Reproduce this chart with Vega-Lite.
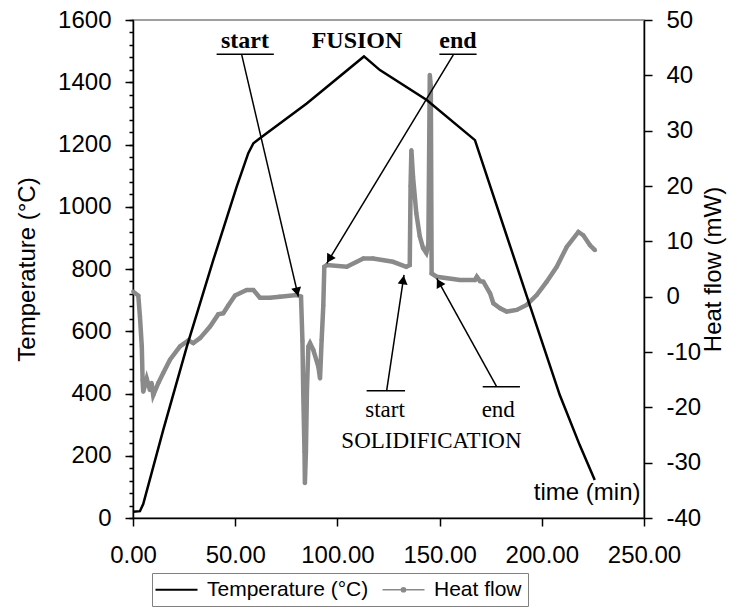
{
  "$schema": "https://vega.github.io/schema/vega-lite/v6.json",
  "width": 511,
  "height": 498,
  "autosize": {"type": "none"},
  "padding": {"left": 133, "top": 20, "right": 102, "bottom": 92},
  "background": "white",
  "config": {
    "view": {"stroke": "#808080", "strokeWidth": 1.5},
    "font": "Liberation Sans",
    "axis": {"domainColor": "#000000", "domainWidth": 1.5, "tickColor": "#000000", "tickWidth": 1.5, "labelColor": "#000000", "titleColor": "#000000", "labelFont": "Liberation Sans", "titleFont": "Liberation Sans", "labelFontSize": 24, "titleFontSize": 24, "titleFontWeight": "normal", "grid": false, "labelOverlap": false, "labelBound": false, "labelFlush": false},
    "legend": {"symbolSize": 1764, "labelFontSize": 21}
  },
  "datasets": {
    "heatflow": [
      {"time": 0.1, "heat": 0.9}, {"time": 2.6, "heat": 0.2}, {"time": 3.4, "heat": -3.6}, {"time": 4.3, "heat": -9.0},
      {"time": 4.7, "heat": -15.1}, {"time": 5.0, "heat": -17.2}, {"time": 6.7, "heat": -14.8}, {"time": 8.3, "heat": -16.9},
      {"time": 9.1, "heat": -15.6}, {"time": 9.9, "heat": -17.8}, {"time": 12.4, "heat": -15.6}, {"time": 14.8, "heat": -13.8},
      {"time": 18.1, "heat": -11.4}, {"time": 23.0, "heat": -9.0}, {"time": 27.1, "heat": -7.9}, {"time": 29.5, "heat": -8.4},
      {"time": 32.8, "heat": -7.5}, {"time": 37.7, "heat": -5.4}, {"time": 41.7, "heat": -3.2}, {"time": 44.2, "heat": -3.0},
      {"time": 46.6, "heat": -1.6}, {"time": 49.9, "heat": 0.2}, {"time": 55.6, "heat": 1.2}, {"time": 58.9, "heat": 1.2},
      {"time": 62.1, "heat": -0.2}, {"time": 67.0, "heat": -0.2}, {"time": 71.9, "heat": 0.0}, {"time": 80.1, "heat": 0.3},
      {"time": 82.2, "heat": 0.0}, {"time": 82.9, "heat": -8.0}, {"time": 83.3, "heat": -17.5}, {"time": 83.9, "heat": -28.0},
      {"time": 84.1, "heat": -33.7}, {"time": 84.6, "heat": -28.0}, {"time": 85.1, "heat": -17.0}, {"time": 85.8, "heat": -9.0},
      {"time": 86.6, "heat": -8.4}, {"time": 88.2, "heat": -9.6}, {"time": 90.7, "heat": -12.7}, {"time": 91.5, "heat": -14.8},
      {"time": 92.3, "heat": -7.8}, {"time": 93.1, "heat": -1.6}, {"time": 93.6, "heat": 5.4}, {"time": 94.8, "heat": 5.7},
      {"time": 104.6, "heat": 5.4}, {"time": 112.7, "heat": 6.9}, {"time": 117.4, "heat": 6.9}, {"time": 127.2, "heat": 6.3},
      {"time": 133.7, "heat": 5.4}, {"time": 135.4, "heat": 5.7}, {"time": 135.8, "heat": 20.0}, {"time": 136.2, "heat": 26.5},
      {"time": 137.0, "heat": 21.7}, {"time": 138.6, "heat": 15.1}, {"time": 140.3, "heat": 10.9}, {"time": 141.9, "heat": 8.8},
      {"time": 143.5, "heat": 7.9}, {"time": 144.5, "heat": 9.5}, {"time": 145.2, "heat": 40.1}, {"time": 145.7, "heat": 38.0},
      {"time": 146.1, "heat": 4.2}, {"time": 148.6, "heat": 3.6}, {"time": 160.0, "heat": 3.0}, {"time": 167.3, "heat": 3.0},
      {"time": 168.2, "heat": 3.6}, {"time": 169.8, "heat": 2.8}, {"time": 171.4, "heat": 2.7}, {"time": 174.7, "heat": 0.6},
      {"time": 176.3, "heat": -1.2}, {"time": 179.6, "heat": -2.1}, {"time": 182.8, "heat": -2.7}, {"time": 187.7, "heat": -2.4},
      {"time": 192.6, "heat": -1.5}, {"time": 197.5, "heat": 0.3}, {"time": 202.4, "heat": 2.7}, {"time": 207.3, "heat": 5.4},
      {"time": 212.2, "heat": 9.0}, {"time": 217.9, "heat": 11.7}, {"time": 220.3, "heat": 11.1}, {"time": 223.6, "heat": 9.3},
      {"time": 226.0, "heat": 8.4}
    ],
    "temperature": [
      {"time": 0.0, "temp": 20}, {"time": 3.4, "temp": 22}, {"time": 5.0, "temp": 45}, {"time": 14.8, "temp": 283},
      {"time": 26.3, "temp": 550}, {"time": 39.3, "temp": 829}, {"time": 50.7, "temp": 1064}, {"time": 56.4, "temp": 1172},
      {"time": 58.9, "temp": 1204}, {"time": 62.1, "temp": 1220}, {"time": 85.0, "temp": 1332}, {"time": 113.0, "temp": 1483},
      {"time": 120.8, "temp": 1439}, {"time": 143.7, "temp": 1343}, {"time": 167.3, "temp": 1214}, {"time": 194.1, "temp": 684},
      {"time": 208.8, "temp": 395}, {"time": 218.5, "temp": 235}, {"time": 225.9, "temp": 122}
    ],
    "boldLabels": [
      {"time": 54.8, "temp": 1511, "text": "start"},
      {"time": 109.6, "temp": 1511, "text": "FUSION"},
      {"time": 159.0, "temp": 1511, "text": "end"}
    ],
    "plainLabels": [
      {"time": 123.3, "temp": 325, "text": "start"},
      {"time": 178.7, "temp": 325, "text": "end"},
      {"time": 146.0, "temp": 224, "text": "SOLIDIFICATION"}
    ],
    "segments": [
      {"time": 40.9, "temp": 1490, "time2": 68.9, "temp2": 1490},
      {"time": 149.9, "temp": 1490, "time2": 168.1, "temp2": 1490},
      {"time": 53.2, "temp": 1488, "time2": 80.9, "temp2": 711},
      {"time": 156.7, "temp": 1488, "time2": 94.8, "temp2": 818},
      {"time": 114.3, "temp": 409, "time2": 133.1, "temp2": 409},
      {"time": 171.1, "temp": 422, "time2": 189.3, "temp2": 422},
      {"time": 124.1, "temp": 409, "time2": 132.6, "temp2": 781},
      {"time": 177.9, "temp": 422, "time2": 148.6, "temp2": 770}
    ]
  },
  "layer": [
    {
      "data": {"name": "heatflow"},
      "mark": {"type": "line", "strokeWidth": 4.5, "point": {"filled": true, "size": 18}},
      "encoding": {
        "x": {
          "field": "time", "type": "quantitative",
          "scale": {"domain": [0, 250], "nice": false},
          "axis": {
            "orient": "bottom", "values": [0, 50, 100, 150, 200, 250], "format": ".2f", "labelOverlap": false,
            "tickSize": 8, "labelPadding": 17,
            "title": "time (min)", "titleX": 507, "titleY": -19, "titleAlign": "right", "titleBaseline": "alphabetic", "titleAnchor": null
          }
        },
        "y": {
          "field": "heat", "type": "quantitative",
          "scale": {"domain": [-40, 50], "nice": false},
          "axis": {
            "orient": "right", "values": [-40, -30, -20, -10, 0, 10, 20, 30, 40, 50], "labelOverlap": false,
            "labelExpr": "datum.value + ''",
            "tickSize": 8, "labelPadding": 14,
            "encode": {"ticks": {"update": {"x": {"value": -8}}}},
            "title": "Heat flow (mW)", "titleAngle": 270, "titleBaseline": "top", "titlePadding": 1
          }
        },
        "color": {
          "datum": "Heat flow", "type": "nominal",
          "scale": {"domain": ["Temperature (°C)", "Heat flow"], "range": ["#000000", "#8a8a8a"]},
          "legend": {
            "orient": "none", "legendX": 19, "legendY": 553, "direction": "horizontal", "title": null,
            "labelFont": "Liberation Sans", "labelFontSize": 21, "labelColor": "#000000", "labelLimit": 400,
            "symbolType": "stroke", "symbolSize": 1764, "symbolStrokeWidth": 2, "symbolOffset": 8,
            "strokeColor": "#808080", "fillColor": "#ffffff", "padding": 6, "columnPadding": 10, "labelOffset": 20,
            "encode": {"symbols": {"update": {
              "shape": {"signal": "datum.value === 'Heat flow' ? 'M-1,0L1,0M-0.1,0A0.1,0.1,0,1,0,0.1,0A0.1,0.1,0,1,0,-0.1,0Z' : 'stroke'"},
              "fill": {"signal": "datum.value === 'Heat flow' ? '#8a8a8a' : 'transparent'"},
              "strokeWidth": {"signal": "datum.value === 'Heat flow' ? 1.5 : 2"}
            }}}
          }
        }
      }
    },
    {
      "layer": [
        {
          "data": {"name": "temperature"},
          "mark": {"type": "line", "strokeWidth": 2.5},
          "encoding": {
            "x": {"field": "time", "type": "quantitative"},
            "y": {
              "field": "temp", "type": "quantitative",
              "scale": {"domain": [0, 1600], "nice": false},
              "axis": {
                "orient": "left",
                "values": [0, 200, 400, 600, 800, 1000, 1200, 1400, 1600],
                "labelOverlap": false, "format": "d",
                "tickSize": 8, "labelPadding": 14,
                "title": "Temperature (°C)", "titlePadding": 18
              }
            },
            "color": {"datum": "Temperature (°C)", "type": "nominal"}
          }
        },
        {
          "data": {"name": "segments"},
          "mark": {"type": "rule", "color": "#000000", "strokeWidth": 1.5},
          "encoding": {
            "x": {"field": "time", "type": "quantitative"},
            "x2": {"field": "time2"},
            "y": {"field": "temp", "type": "quantitative"},
            "y2": {"field": "temp2"}
          }
        },
        {
          "data": {"values": [{"time": 80.3, "temp": 727}]},
          "mark": {"type": "point", "shape": "triangle-up", "filled": true, "color": "#000000", "size": 100, "angle": 167, "opacity": 1},
          "encoding": {"x": {"field": "time", "type": "quantitative"}, "y": {"field": "temp", "type": "quantitative"}}
        },
        {
          "data": {"values": [{"time": 96.0, "temp": 832}]},
          "mark": {"type": "point", "shape": "triangle-up", "filled": true, "color": "#000000", "size": 100, "angle": 211, "opacity": 1},
          "encoding": {"x": {"field": "time", "type": "quantitative"}, "y": {"field": "temp", "type": "quantitative"}}
        },
        {
          "data": {"values": [{"time": 132.2, "temp": 765}]},
          "mark": {"type": "point", "shape": "triangle-up", "filled": true, "color": "#000000", "size": 100, "angle": 8, "opacity": 1},
          "encoding": {"x": {"field": "time", "type": "quantitative"}, "y": {"field": "temp", "type": "quantitative"}}
        },
        {
          "data": {"values": [{"time": 149.7, "temp": 756}]},
          "mark": {"type": "point", "shape": "triangle-up", "filled": true, "color": "#000000", "size": 100, "angle": 331, "opacity": 1},
          "encoding": {"x": {"field": "time", "type": "quantitative"}, "y": {"field": "temp", "type": "quantitative"}}
        },
        {
          "data": {"name": "boldLabels"},
          "mark": {"type": "text", "font": "Liberation Serif", "fontSize": 24, "fontWeight": "bold", "color": "#000000", "align": "center", "baseline": "alphabetic"},
          "encoding": {
            "x": {"field": "time", "type": "quantitative"},
            "y": {"field": "temp", "type": "quantitative"},
            "text": {"field": "text"}
          }
        },
        {
          "data": {"name": "plainLabels"},
          "mark": {"type": "text", "font": "Liberation Serif", "fontSize": 23, "color": "#000000", "align": "center", "baseline": "alphabetic"},
          "encoding": {
            "x": {"field": "time", "type": "quantitative"},
            "y": {"field": "temp", "type": "quantitative"},
            "text": {"field": "text"}
          }
        }
      ]
    },
    {
      "data": {"name": "temperature"},
      "mark": {"type": "line", "opacity": 0},
      "encoding": {
        "x": {"field": "time", "type": "quantitative"},
        "y": {
          "field": "temp", "type": "quantitative",
          "scale": {"domain": [0, 1600], "nice": false},
          "axis": {
            "orient": "left",
            "values": [0, 40, 80, 120, 160, 200, 240, 280, 320, 360, 400, 440, 480, 520, 560, 600, 640, 680, 720, 760, 800, 840, 880, 920, 960, 1000, 1040, 1080, 1120, 1160, 1200, 1240, 1280, 1320, 1360, 1400, 1440, 1480, 1520, 1560, 1600],
            "labels": false, "domain": false, "tickSize": 4, "title": null
          }
        }
      }
    }
  ],
  "resolve": {"scale": {"y": "independent"}}
}
